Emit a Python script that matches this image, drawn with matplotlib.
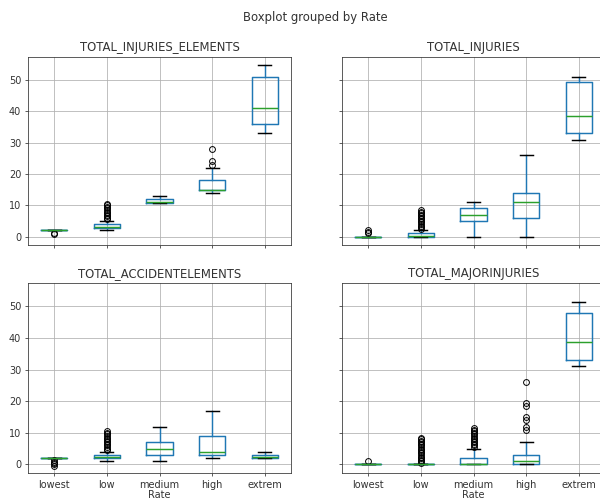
import matplotlib
matplotlib.use('Agg')
import matplotlib.pyplot as plt

# ---------------- data ----------------
rates = ['lowest', 'low', 'medium', 'high', 'extrem']
panel_titles = ['TOTAL_INJURIES_ELEMENTS', 'TOTAL_INJURIES',
                'TOTAL_ACCIDENTELEMENTS', 'TOTAL_MAJORINJURIES']

# TOTAL_INJURIES_ELEMENTS
ie_q1 = [2, 2.7, 10.8, 15, 36]
ie_med = [2, 3, 11, 15, 41]
ie_q3 = [2, 4, 12, 18, 51]
ie_lo = [2, 2, 10.8, 14, 33]
ie_hi = [2, 5, 13, 22, 55]
ie_fl = [[1, 0.8],
         [5.5, 6, 6.5, 7, 7.5, 8, 8.5, 9, 9.5, 10, 10.5],
         [], [23, 24, 28], []]

# TOTAL_INJURIES
ti_q1 = [0, 0, 5, 6, 33]
ti_med = [0, 0.2, 7, 11, 38.5]
ti_q3 = [0, 1, 9, 14, 49.5]
ti_lo = [0, 0, 0, 0, 31]
ti_hi = [0, 2, 11, 26, 51]
ti_fl = [[1, 1.5, 2],
         [2.5, 3, 3.5, 4, 4.5, 5, 5.5, 6, 6.5, 7, 7.5, 8, 8.5],
         [], [], []]

# TOTAL_ACCIDENTELEMENTS
ae_q1 = [2, 2, 3, 3, 2]
ae_med = [2, 2.5, 5, 4, 2.5]
ae_q3 = [2, 3, 7, 9, 3]
ae_lo = [2, 1, 1, 2, 2]
ae_hi = [2, 4, 12, 17, 4]
ae_fl = [[1.3, 0.9, 0.5, 0, -0.4],
         [4.5, 5, 5.5, 6, 6.5, 7, 7.5, 8, 8.5, 9, 9.5, 10, 10.5],
         [], [], []]

# TOTAL_MAJORINJURIES
mi_q1 = [0, 0, 0, 0, 33]
mi_med = [0, 0, 0, 1, 38.7]
mi_q3 = [0, 0, 2, 3, 48]
mi_lo = [0, 0, 0, 0, 31]
mi_hi = [0, 0, 5, 7, 51.3]
mi_fl = [[1],
         [0.5, 1, 1.5, 2, 2.5, 3, 3.5, 4, 4.5, 5, 5.5, 6, 6.5, 7, 7.5, 8, 8.5],
         [5.5, 6, 6.5, 7, 7.5, 8, 8.5, 9, 9.5, 10, 10.5, 11, 11.5],
         [11, 12, 14, 15, 18.5, 19.5, 26], []]

panels = [
    (ie_q1, ie_med, ie_q3, ie_lo, ie_hi, ie_fl),
    (ti_q1, ti_med, ti_q3, ti_lo, ti_hi, ti_fl),
    (ae_q1, ae_med, ae_q3, ae_lo, ae_hi, ae_fl),
    (mi_q1, mi_med, mi_q3, mi_lo, mi_hi, mi_fl),
]

# ---------------- style ----------------
s = 0.7
plt.rcParams.update({
    'font.family': 'DejaVu Sans',
    'font.size': 10 * s,
    'axes.titlesize': 12 * s,
    'axes.linewidth': 0.8 * s,
    'grid.linewidth': 0.8 * s,
    'xtick.major.size': 3.5 * s,
    'ytick.major.size': 3.5 * s,
    'xtick.major.width': 0.8 * s,
    'ytick.major.width': 0.8 * s,
    'xtick.major.pad': 3.5 * s,
    'ytick.major.pad': 3.5 * s,
    'axes.titlepad': 6 * s,
    'axes.labelpad': 4 * s,
    'text.color': '#333333',
    'axes.edgecolor': '#333333',
    'xtick.color': '#333333',
    'ytick.color': '#333333',
    'axes.labelcolor': '#333333',
})

fig = plt.figure(figsize=(6, 5), dpi=100)
W, H = 600, 500
boxes = [
    (28, 57, 291, 245),
    (342, 57, 605, 245),
    (28, 283, 291, 473),
    (342, 283, 605, 473),
]

lw = 1.5 * s
axes = []
for i, (x0, y0, x1, y1) in enumerate(boxes):
    rect = [x0 / W, 1 - y1 / H, (x1 - x0) / W, (y1 - y0) / H]
    ax = fig.add_axes(rect, sharey=axes[0] if axes else None)
    axes.append(ax)
    q1, med, q3, lo, hi, fl = panels[i]
    stats = []
    for j in range(len(rates)):
        stats.append({'q1': q1[j], 'med': med[j], 'q3': q3[j],
                      'whislo': lo[j], 'whishi': hi[j], 'fliers': fl[j],
                      'label': rates[j]})
    ax.bxp(stats, positions=list(range(1, len(rates) + 1)), widths=0.5,
           boxprops=dict(color='#1f77b4', linewidth=lw),
           whiskerprops=dict(color='#1f77b4', linewidth=lw),
           capprops=dict(color='black', linewidth=lw),
           medianprops=dict(color='#2ca02c', linewidth=lw),
           flierprops=dict(marker='o', markerfacecolor='none',
                           markeredgecolor='black', markersize=6 * s,
                           markeredgewidth=1.0 * s))
    ax.set_xlim(0.5, len(rates) + 0.5)
    ax.set_ylim(-2.7, 57.4)
    ax.set_yticks([0, 10, 20, 30, 40, 50])
    ax.set_xticks(list(range(1, len(rates) + 1)))
    ax.grid(True, color='#b0b0b0')
    ax.set_axisbelow(True)
    ax.set_title(panel_titles[i])
    if i >= 2:
        ax.set_xticklabels(rates)
        ax.set_xlabel('Rate', labelpad=0.5)
    else:
        ax.set_xticklabels([])
    if i % 2 == 1:
        ax.tick_params(axis='y', labelleft=False)

fig.suptitle('Boxplot grouped by Rate', x=315 / W, y=1 - 17 / H,
             va='center', fontsize=12 * s)

fig.savefig('out.png', dpi=100)
